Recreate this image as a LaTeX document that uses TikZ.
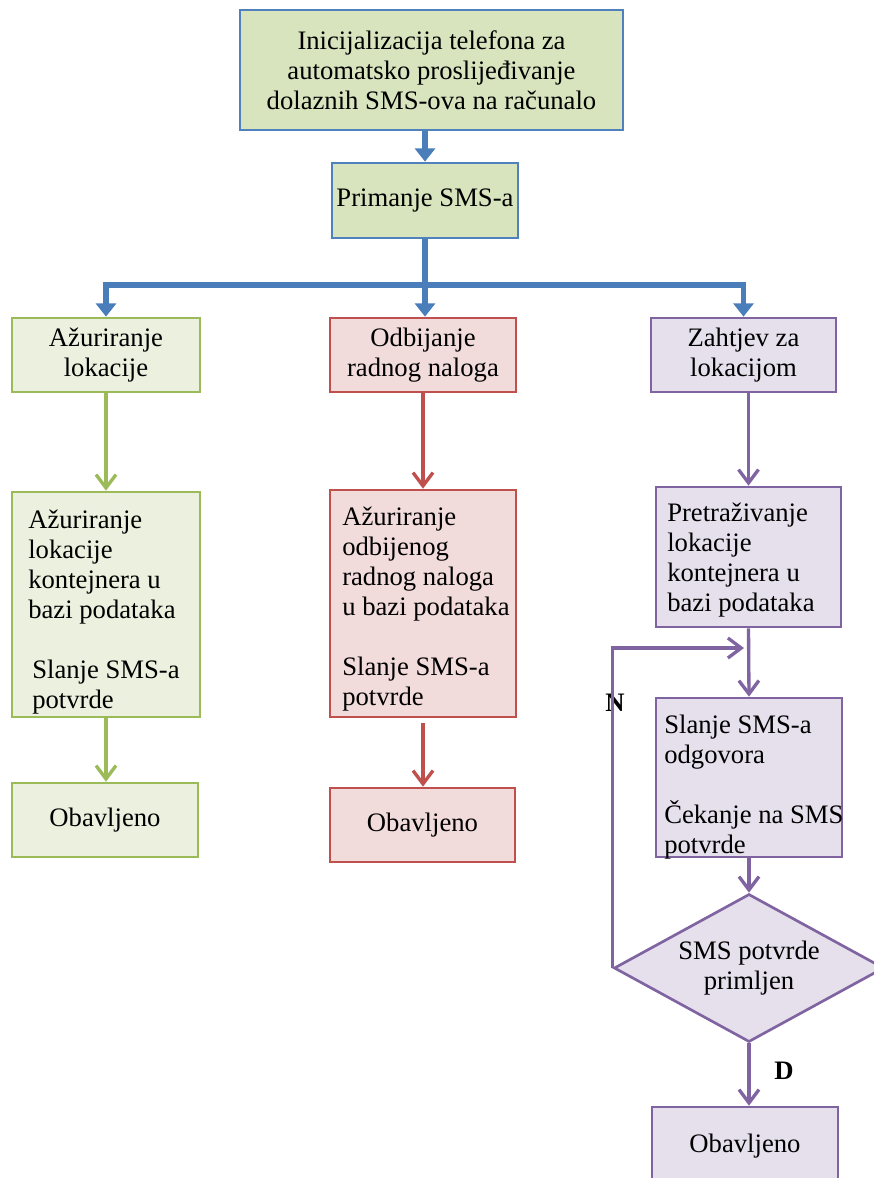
\documentclass[tikz,border=0pt]{standalone}
\usepackage{fontspec}
\setmainfont{Liberation Serif}
\usetikzlibrary{arrows.meta,shapes.geometric}

\definecolor{topfill}{RGB}{215,228,189}
\definecolor{topline}{RGB}{79,129,189}
\definecolor{flowblue}{RGB}{74,126,187}
\definecolor{gfill}{RGB}{235,241,222}
\definecolor{gline}{RGB}{155,187,89}
\definecolor{rfill}{RGB}{242,220,219}
\definecolor{rline}{RGB}{192,80,77}
\definecolor{pfill}{RGB}{229,224,236}
\definecolor{pline}{RGB}{128,100,162}

\begin{document}
\begin{tikzpicture}[x=0.75pt,y=-0.75pt,
  font=\fontsize{20}{22.5}\selectfont,
  boxbase/.style={rectangle, draw, line width=2pt, inner sep=0pt, align=center},
  topbox/.style={boxbase, draw=topline, fill=topfill},
  gbox/.style={boxbase, draw=gline, fill=gfill},
  rbox/.style={boxbase, draw=rline, fill=rfill},
  pbox/.style={boxbase, draw=pline, fill=pfill},
  size/.style 2 args={minimum width=#1*0.75pt, minimum height=#2*0.75pt},
  pdiamond/.style={diamond, draw=pline, fill=pfill, line width=2pt, inner sep=0pt,
    aspect=1.8, minimum width=202.5pt, minimum height=111pt, align=center},
  txt/.style={anchor=north west, align=left, inner sep=0pt},
  flag/.style={inner sep=0pt, font=\fontsize{20}{22.5}\selectfont\bfseries},
  bluearr/.style={draw=flowblue, line width=4.2pt, -{Triangle[length=10pt,width=15pt]}},
  bluearrs/.style={draw=flowblue, line width=4.2pt, line join=miter,
    {Triangle[length=10pt,width=15pt]}-{Triangle[length=10pt,width=15pt]}},
  thinarr/.style={line width=2.5pt, -{Straight Barb[length=10pt,width=15pt]}},
  garr/.style={thinarr, draw=gline},
  rarr/.style={thinarr, draw=rline},
  parr/.style={thinarr, draw=pline},
]
\useasboundingbox (0,0) rectangle (874,1178);

% top of the flow
\node[topbox, size={383}{120}] (init) at (431.5,70)
  {Inicijalizacija telefona za\\automatsko proslijeđivanje\\dolaznih SMS-ova na računalo};
\node[topbox, size={186}{75}] (prim) at (425,200.5) {Primanje SMS-a};

% first row of branches
\node[gbox, size={188}{74}] (l1) at (106,355) {Ažuriranje\\lokacije};
\node[rbox, size={186}{74}] (m1) at (423,355) {Odbijanje\\radnog naloga};
\node[pbox, size={185}{74}] (r1) at (743.5,355) {Zahtjev za\\lokacijom};

% second row
\node[gbox, size={188}{225}] (l2) at (106,604.5) {};
\node[txt] (l2t) at (28,510)
  {Ažuriranje\\lokacije\\kontejnera u\\bazi podataka\\[22.5pt]\hspace*{3pt}Slanje SMS-a\\\hspace*{3pt}potvrde};
\node[rbox, size={186}{227}] (m2) at (423,603.5) {};
\node[txt] (m2t) at (342,507)
  {Ažuriranje\\odbijenog\\radnog naloga\\u bazi podataka\\[22.5pt]Slanje SMS-a\\potvrde};
\node[pbox, size={185}{140}] (r2) at (748.5,557) {};
\node[txt] (r2t) at (667,503)
  {Pretraživanje\\lokacije\\kontejnera u\\bazi podataka};

% third row
\node[gbox, size={186}{74}] (l3) at (105,820) {Obavljeno};
\node[rbox, size={185}{74}] (m3) at (422.5,825) {Obavljeno};
\node[pbox, size={186}{159}] (r3) at (749,777.5) {};
\node[txt] (r3t) at (664,715)
  {Slanje SMS-a\\odgovora\\[22.5pt]Čekanje na SMS\\potvrde};

% decision and end of the right branch
\node[pdiamond] (dia) at (749,968) {SMS potvrde\\primljen};
\node[pbox, size={186}{78}] (r4) at (745,1146) {Obavljeno};

\coordinate (j) at (425,285);
\coordinate (back) at (744,648);
\node[flag] (nlab) at (615,703) {N};
\node[flag] (dlab) at (784,1071) {D};

% blue connectors
\draw[bluearr] (prim.north |- init.south) -- (prim.north);
\draw[bluearr] (prim.south) -- (prim.south |- m1.north);
\draw[bluearrs] (l1.north) |- (j) -| (r1.north);

% green column
\draw[garr] (l1.south) -- (l2.north);
\draw[garr] (l2.south) -- (l2.south |- l3.north);

% red column
\draw[rarr] (m1.south) -- (m2.north);
\draw[rarr] ([yshift=-3.75pt]m2.south) -- (m2.south |- m3.north);

% purple column
\draw[parr] (r2.north |- r1.south) -- (r2.north);
\draw[parr] (r2.south) -- (r3.north);
\draw[parr] (r3.south) -- (r3.south |- dia.north);
\draw[parr] (dia.west) |- (back);
\draw[parr] (dia.south) -- (dia.south |- r4.north);

\end{tikzpicture}
\end{document}
